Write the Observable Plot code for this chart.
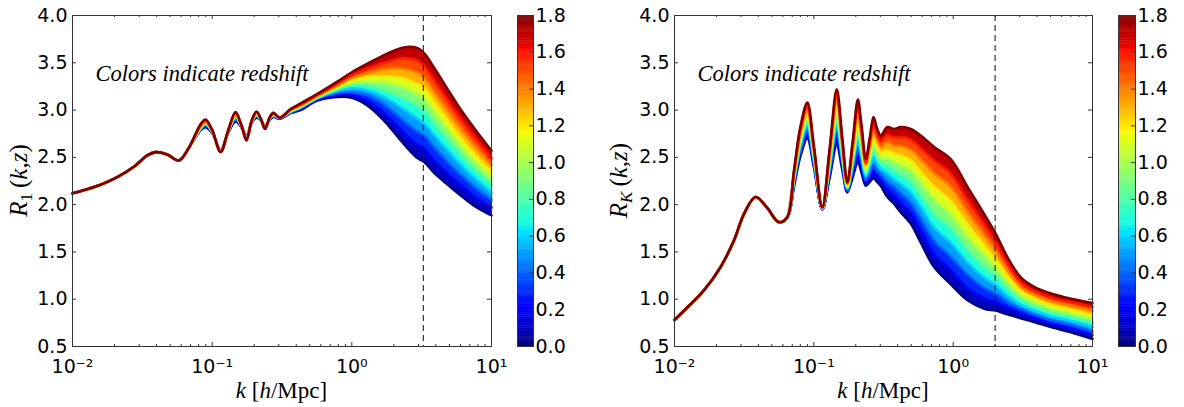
<!DOCTYPE html>
<html><head><meta charset="utf-8">
<script src="https://cdn.jsdelivr.net/npm/d3@7"></script>
<script src="https://cdn.jsdelivr.net/npm/@observablehq/plot@0.6"></script>
<style>
html,body{margin:0;padding:0;background:#fff;}
#fig{position:relative;width:1184px;height:407px;overflow:hidden;background:#fff;}
#fig svg{position:absolute;top:0;}
</style></head><body><div id="fig"></div>
<script>
// ---------------- data ----------------
const redshifts = [0, 0.2, 0.4, 0.6, 0.8, 1.0, 1.2, 1.4, 1.6, 1.8];

// Left panel: R_1(k,z)
const k1Low = [0.01, 0.0125, 0.0159, 0.0209, 0.0275, 0.0343, 0.0394, 0.0477, 0.0578, 0.068];
const r1Low = [2.12, 2.16, 2.21, 2.29, 2.40, 2.52, 2.555, 2.53, 2.467, 2.60];
const k1High = [0.0826, 0.0897, 0.1, 0.115, 0.13, 0.147, 0.162, 0.176, 0.192, 0.208, 0.224, 0.239, 0.256, 0.274, 0.305, 0.365, 0.43, 0.566, 0.787, 1.0, 1.29, 1.7, 2.3, 2.9, 3.3, 3.87, 5.1, 6.0, 7.5, 10];
const r1High = [
  [2.79, 2.82, 2.76, 2.575, 2.76, 2.88, 2.82, 2.72, 2.87, 2.92, 2.89, 2.83, 2.89, 2.93, 2.91, 2.97, 3.00, 3.10, 3.14, 3.13, 3.05, 2.89, 2.66, 2.50, 2.45, 2.34, 2.185, 2.10, 1.99, 1.886],
  [2.79, 2.83, 2.76, 2.57, 2.76, 2.89, 2.82, 2.72, 2.87, 2.93, 2.89, 2.83, 2.89, 2.93, 2.91, 2.97, 3.01, 3.11, 3.16, 3.16, 3.10, 2.97, 2.78, 2.64, 2.59, 2.47, 2.30, 2.21, 2.09, 1.97],
  [2.80, 2.84, 2.77, 2.57, 2.77, 2.90, 2.83, 2.71, 2.87, 2.94, 2.89, 2.82, 2.89, 2.94, 2.91, 2.98, 3.02, 3.12, 3.18, 3.19, 3.16, 3.06, 2.90, 2.78, 2.73, 2.61, 2.42, 2.32, 2.19, 2.05],
  [2.80, 2.85, 2.77, 2.57, 2.77, 2.92, 2.83, 2.71, 2.88, 2.94, 2.89, 2.82, 2.90, 2.94, 2.92, 2.98, 3.03, 3.13, 3.20, 3.23, 3.21, 3.14, 3.02, 2.92, 2.86, 2.74, 2.54, 2.43, 2.29, 2.13],
  [2.81, 2.86, 2.77, 2.57, 2.77, 2.93, 2.83, 2.70, 2.88, 2.95, 2.89, 2.82, 2.90, 2.95, 2.92, 2.99, 3.03, 3.13, 3.22, 3.26, 3.26, 3.21, 3.13, 3.05, 2.99, 2.86, 2.65, 2.53, 2.38, 2.21],
  [2.82, 2.87, 2.78, 2.56, 2.77, 2.94, 2.83, 2.70, 2.88, 2.96, 2.90, 2.82, 2.90, 2.95, 2.92, 2.99, 3.04, 3.14, 3.23, 3.29, 3.30, 3.29, 3.24, 3.17, 3.11, 2.98, 2.75, 2.62, 2.46, 2.28],
  [2.82, 2.87, 2.78, 2.56, 2.77, 2.95, 2.83, 2.69, 2.88, 2.96, 2.90, 2.81, 2.90, 2.96, 2.92, 3.00, 3.05, 3.15, 3.25, 3.31, 3.35, 3.36, 3.34, 3.28, 3.23, 3.09, 2.85, 2.71, 2.54, 2.35],
  [2.83, 2.88, 2.78, 2.56, 2.78, 2.96, 2.84, 2.69, 2.89, 2.97, 2.90, 2.81, 2.91, 2.96, 2.92, 3.00, 3.05, 3.15, 3.26, 3.34, 3.39, 3.43, 3.44, 3.40, 3.34, 3.20, 2.95, 2.81, 2.63, 2.42],
  [2.84, 2.89, 2.79, 2.56, 2.78, 2.97, 2.84, 2.68, 2.89, 2.98, 2.90, 2.80, 2.91, 2.97, 2.92, 3.01, 3.06, 3.16, 3.28, 3.37, 3.44, 3.50, 3.55, 3.53, 3.47, 3.32, 3.06, 2.91, 2.72, 2.49],
  [2.85, 2.90, 2.79, 2.555, 2.78, 2.98, 2.84, 2.68, 2.89, 2.985, 2.90, 2.80, 2.91, 2.97, 2.92, 3.01, 3.07, 3.17, 3.30, 3.40, 3.49, 3.58, 3.66, 3.66, 3.60, 3.45, 3.17, 3.01, 2.81, 2.57]
];
const kStar1 = 3.25;

// Right panel: R_K(k,z)
const k2Low = [0.01, 0.0125, 0.0162, 0.0214, 0.0267, 0.0315, 0.0382, 0.046, 0.0561];
const r2Low = [0.78, 0.92, 1.09, 1.34, 1.62, 1.90, 2.08, 1.97, 1.815];
const k2High = [0.0645, 0.072, 0.08, 0.0898, 0.1, 0.115, 0.13, 0.146, 0.16, 0.174, 0.19, 0.207, 0.22, 0.236, 0.252, 0.268, 0.285, 0.302, 0.337, 0.376, 0.42, 0.496, 0.585, 0.73, 0.96, 1.27, 1.67, 2.02, 2.45, 3.06, 3.81, 5.03, 7.0, 10];
const r2High = [
  [1.86, 2.19, 2.51, 2.70, 2.40, 1.95, 2.29, 2.63, 2.37, 2.13, 2.29, 2.45, 2.34, 2.20, 2.24, 2.28, 2.24, 2.20, 2.08, 2.01, 1.92, 1.80, 1.60, 1.34, 1.16, 0.99, 0.90, 0.88, 0.84, 0.80, 0.76, 0.705, 0.65, 0.58],
  [1.86, 2.21, 2.54, 2.74, 2.43, 1.95, 2.32, 2.70, 2.41, 2.14, 2.33, 2.52, 2.40, 2.23, 2.29, 2.35, 2.30, 2.26, 2.16, 2.10, 2.02, 1.91, 1.73, 1.48, 1.31, 1.12, 1.01, 0.97, 0.91, 0.85, 0.80, 0.74, 0.69, 0.62],
  [1.86, 2.23, 2.58, 2.78, 2.45, 1.95, 2.36, 2.76, 2.45, 2.15, 2.37, 2.60, 2.45, 2.26, 2.34, 2.42, 2.36, 2.32, 2.24, 2.19, 2.12, 2.02, 1.85, 1.62, 1.45, 1.26, 1.12, 1.06, 0.97, 0.90, 0.84, 0.78, 0.73, 0.66],
  [1.86, 2.25, 2.61, 2.83, 2.48, 1.96, 2.39, 2.83, 2.48, 2.17, 2.42, 2.67, 2.51, 2.30, 2.40, 2.50, 2.43, 2.38, 2.33, 2.27, 2.22, 2.13, 1.98, 1.76, 1.60, 1.39, 1.23, 1.15, 1.04, 0.94, 0.88, 0.82, 0.77, 0.71],
  [1.86, 2.27, 2.65, 2.87, 2.50, 1.96, 2.43, 2.89, 2.52, 2.18, 2.46, 2.74, 2.56, 2.33, 2.45, 2.57, 2.49, 2.44, 2.41, 2.36, 2.32, 2.24, 2.10, 1.90, 1.75, 1.52, 1.34, 1.24, 1.11, 0.99, 0.92, 0.86, 0.81, 0.75],
  [1.87, 2.28, 2.68, 2.91, 2.53, 1.96, 2.46, 2.96, 2.56, 2.19, 2.50, 2.82, 2.62, 2.36, 2.50, 2.64, 2.55, 2.49, 2.49, 2.45, 2.42, 2.36, 2.23, 2.05, 1.89, 1.65, 1.46, 1.33, 1.18, 1.04, 0.97, 0.90, 0.85, 0.79],
  [1.87, 2.30, 2.72, 2.95, 2.55, 1.96, 2.50, 3.02, 2.60, 2.20, 2.54, 2.89, 2.67, 2.39, 2.55, 2.71, 2.61, 2.55, 2.57, 2.54, 2.52, 2.47, 2.35, 2.19, 2.04, 1.79, 1.57, 1.42, 1.24, 1.09, 1.01, 0.94, 0.89, 0.83],
  [1.87, 2.32, 2.75, 2.99, 2.58, 1.97, 2.53, 3.09, 2.63, 2.22, 2.59, 2.96, 2.73, 2.42, 2.61, 2.78, 2.68, 2.61, 2.66, 2.62, 2.62, 2.58, 2.48, 2.33, 2.19, 1.92, 1.68, 1.51, 1.31, 1.13, 1.05, 0.98, 0.93, 0.88],
  [1.87, 2.34, 2.79, 3.04, 2.60, 1.97, 2.57, 3.16, 2.67, 2.23, 2.63, 3.04, 2.78, 2.45, 2.66, 2.85, 2.74, 2.67, 2.74, 2.71, 2.72, 2.69, 2.60, 2.47, 2.33, 2.05, 1.79, 1.60, 1.38, 1.18, 1.09, 1.02, 0.97, 0.92],
  [1.87, 2.36, 2.82, 3.08, 2.63, 1.97, 2.60, 3.22, 2.71, 2.24, 2.67, 3.11, 2.84, 2.485, 2.71, 2.925, 2.80, 2.73, 2.82, 2.80, 2.82, 2.80, 2.73, 2.61, 2.48, 2.185, 1.90, 1.69, 1.445, 1.23, 1.13, 1.06, 1.005, 0.96]
];
const kStar2 = 2.0;

// Ticks
const yTicks = [0.5, 1.0, 1.5, 2.0, 2.5, 3.0, 3.5, 4.0];
const xMajor = [0.01, 0.1, 1, 10];
const xMinor = [0.02,0.03,0.04,0.05,0.06,0.07,0.08,0.09,0.2,0.3,0.4,0.5,0.6,0.7,0.8,0.9,2,3,4,5,6,7,8,9];
const xTickLabels = ["10\u207B\u00B2", "10\u207B\u00B9", "10\u2070", "10\u00B9"];
const cbTicks = [0, 0.2, 0.4, 0.6, 0.8, 1.0, 1.2, 1.4, 1.6, 1.8];
const noteText = "Colors indicate redshift";

// ---------------- colour map (jet) ----------------
function seg(t, pts) {
  for (let i = 1; i < pts.length; i++) {
    if (t <= pts[i][0]) {
      const [x0, y0] = pts[i - 1], [x1, y1] = pts[i];
      return y0 + (y1 - y0) * (t - x0) / (x1 - x0);
    }
  }
  return pts[pts.length - 1][1];
}
function jet(t) {
  t = Math.max(0, Math.min(1, t));
  const r = seg(t, [[0,0],[0.35,0],[0.66,1],[0.89,1],[1,0.5]]);
  const g = seg(t, [[0,0],[0.125,0],[0.375,1],[0.64,1],[0.91,0],[1,0]]);
  const b = seg(t, [[0,0.5],[0.11,1],[0.34,1],[0.65,0],[1,0]]);
  return `rgb(${Math.round(r*255)},${Math.round(g*255)},${Math.round(b*255)})`;
}
const colorOpts = {type: "linear", domain: [0, 1.8], interpolate: jet};

// ---------------- layout ----------------
const H = 407, mT = 15, mB = 61, plotH = H - mT - mB;
const fig = document.getElementById("fig");
const FRAME = "#333";
const tickFont = {fontSize: 19, fontFamily: "DejaVu Sans"};

function buildRows(kLow, rLow, kHigh, rHigh) {
  const curves = [];
  redshifts.forEach((z, i) => {
    kLow.forEach((k, j) => curves.push({z, k, r: rLow[j]}));
    kHigh.forEach((k, j) => curves.push({z, k, r: rHigh[i][j]}));
  });
  const bands = [];
  for (let i = 0; i < redshifts.length - 1; i++) {
    const zm = (redshifts[i] + redshifts[i + 1]) / 2;
    kHigh.forEach((k, j) => bands.push({band: i, zm, k, lo: rHigh[i][j], hi: rHigh[i + 1][j]}));
  }
  return {curves, bands};
}

function mainPanel({left, width, mL, mR, kLow, rLow, kHigh, rHigh, kStar, sub, subItalic, ylabX}) {
  const plotW = width - mL - mR;
  const {curves, bands} = buildRows(kLow, rLow, kHigh, rHigh);
  const svg = Plot.plot({
    width, height: H, marginLeft: mL, marginRight: mR, marginTop: mT, marginBottom: mB,
    style: {background: "transparent", color: "#000", fontFamily: "DejaVu Sans", overflow: "visible"},
    x: {type: "log", domain: [0.01, 10], axis: null},
    y: {domain: [0.5, 4.0], axis: null},
    color: colorOpts,
    marks: [
      Plot.areaY(bands, {x: "k", y1: "lo", y2: "hi", z: "band", fill: "zm", curve: "catmull-rom"}),
      Plot.line(curves, {x: "k", y: "r", z: "z", stroke: "z", strokeWidth: 2.6, curve: "catmull-rom"}),
      Plot.ruleX([kStar], {stroke: "#222", strokeWidth: 1.1, strokeDasharray: "6,4"}),
      Plot.text([noteText], {text: d => d, frameAnchor: "top-left", dx: 23, dy: 65, lineAnchor: "bottom", textAnchor: "start",
        fontFamily: "Liberation Serif", fontStyle: "italic", fontSize: 22.5, fill: "#000"}),
      // inward ticks on all four sides
      Plot.tickY(yTicks, {y: d => d, insetRight: plotW - 4, stroke: FRAME}),
      Plot.tickY(yTicks, {y: d => d, insetLeft: plotW - 4, stroke: FRAME}),
      Plot.tickX(xMajor, {x: d => d, insetTop: plotH - 4, stroke: FRAME}),
      Plot.tickX(xMajor, {x: d => d, insetBottom: plotH - 4, stroke: FRAME}),
      Plot.tickX(xMinor, {x: d => d, insetTop: plotH - 2, stroke: FRAME}),
      Plot.tickX(xMinor, {x: d => d, insetBottom: plotH - 2, stroke: FRAME}),
      Plot.axisY(yTicks, {anchor: "left", tickSize: 0, tickPadding: 5, tickFormat: d => d.toFixed(1), label: null, ...tickFont}),
      Plot.axisX(xMajor, {anchor: "bottom", tickSize: 0, tickPadding: 13, tickFormat: d => xTickLabels[xMajor.indexOf(d)], label: null, ...tickFont}),
      Plot.frame({stroke: FRAME, strokeWidth: 1})
    ]
  });
  svg.style.left = left + "px";
  fig.appendChild(svg);
  const s = d3.select(svg);
  // y label
  const yl = s.append("text")
    .attr("transform", `translate(${ylabX},${mT + plotH / 2}) rotate(-90)`)
    .attr("text-anchor", "middle")
    .attr("font-family", "Liberation Serif").attr("font-size", 25).attr("fill", "#000");
  yl.append("tspan").attr("font-style", "italic").text("R");
  yl.append("tspan").attr("font-size", 17).attr("font-style", subItalic ? "italic" : "normal").attr("dy", 5).text(sub);
  yl.append("tspan").attr("dy", -5).text("\u2009(");
  yl.append("tspan").attr("font-style", "italic").text("k");
  yl.append("tspan").text(",");
  yl.append("tspan").attr("font-style", "italic").text("z");
  yl.append("tspan").text(")");
  // x label
  const xl = s.append("text")
    .attr("x", mL + plotW / 2).attr("y", 398)
    .attr("text-anchor", "middle")
    .attr("font-family", "Liberation Serif").attr("font-size", 23).attr("fill", "#000");
  xl.append("tspan").attr("font-style", "italic").text("k");
  xl.append("tspan").text(" [");
  xl.append("tspan").attr("font-style", "italic").text("h");
  xl.append("tspan").text("/Mpc]");
}

function colorbar({left, mL, barW, mR}) {
  const cells = d3.range(0, 1.8, 0.01);
  const svg = Plot.plot({
    width: mL + barW + mR, height: H, marginLeft: mL, marginRight: mR, marginTop: mT, marginBottom: mB,
    style: {background: "transparent", color: "#000", fontFamily: "DejaVu Sans", overflow: "visible"},
    x: {domain: [0, 1], axis: null},
    y: {domain: [0, 1.8], axis: null},
    color: colorOpts,
    marks: [
      Plot.rect(cells, {x1: () => 0, x2: () => 1, y1: d => d, y2: d => Math.min(1.8, d + 0.012), fill: d => d + 0.005}),
      Plot.tickY(cbTicks, {y: d => d, insetLeft: barW - 4, stroke: FRAME}),
      Plot.axisY(cbTicks, {anchor: "right", tickSize: 0, tickPadding: 2, tickFormat: d => d.toFixed(1), label: null, ...tickFont}),
      Plot.frame({stroke: FRAME, strokeWidth: 1})
    ]
  });
  svg.style.left = left + "px";
  fig.appendChild(svg);
}

mainPanel({left: 0, width: 500, mL: 72, mR: 9, kLow: k1Low, rLow: r1Low, kHigh: k1High, rHigh: r1High, kStar: kStar1, sub: "1", subItalic: false, ylabX: 27});
colorbar({left: 500, mL: 17, barW: 16, mR: 47});
mainPanel({left: 602, width: 498, mL: 72, mR: 8, kLow: k2Low, rLow: r2Low, kHigh: k2High, rHigh: r2High, kStar: kStar2, sub: "K", subItalic: true, ylabX: 25});
colorbar({left: 1100, mL: 18, barW: 17, mR: 49});
</script>
</body></html>
